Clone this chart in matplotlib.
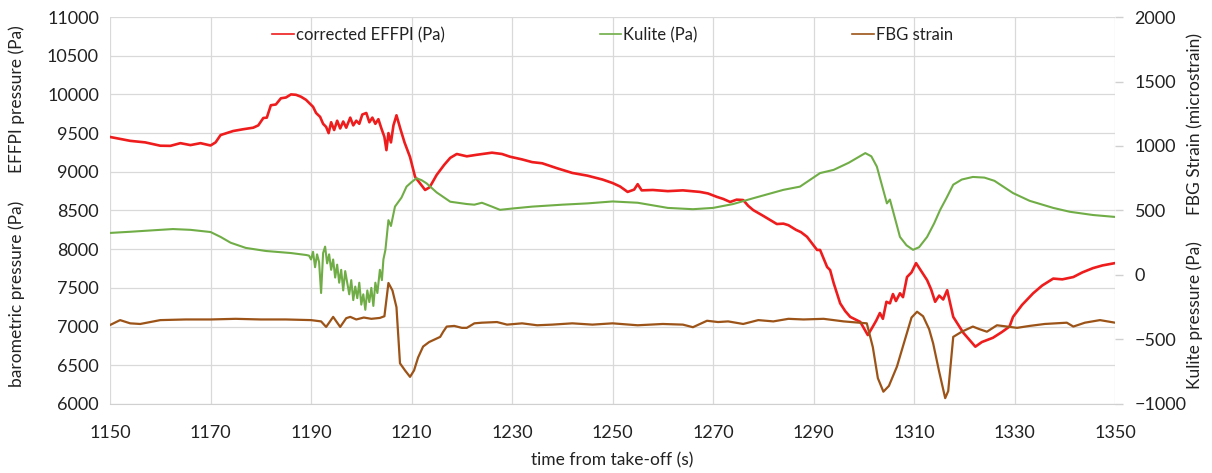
import matplotlib.pyplot as plt

plt.rcParams['font.family'] = ['Lato', 'DejaVu Sans']

# corrected EFFPI pressure (Pa), left axis
effpi_t = [1150, 1152, 1154, 1157, 1160, 1162, 1164, 1166, 1168, 1170, 1171, 1172,
           1174.5, 1176.5, 1178.5, 1179.5, 1180.5, 1181.2, 1182, 1183, 1184, 1185, 1186,
           1187, 1188, 1189, 1190.4, 1191, 1191.8, 1192.4, 1193, 1193.5, 1194, 1194.6,
           1195.2, 1195.8, 1196.4, 1197, 1197.8, 1198.4, 1199, 1199.6, 1200.2, 1201,
           1201.6, 1202.2, 1202.8, 1203.4, 1204, 1204.6, 1205, 1205.4, 1205.9, 1206.4,
           1207, 1207.8, 1208.6, 1209.7, 1210.7, 1211.7, 1212.7, 1213.6, 1215, 1216.5,
           1217.7, 1219, 1221, 1223, 1226, 1228, 1229.6, 1232, 1234, 1236, 1239, 1242,
           1245, 1248, 1250, 1251.5, 1253, 1254.3, 1255, 1255.8, 1258, 1261, 1264,
           1267.4, 1269, 1270.8, 1272, 1273.4, 1274.7, 1276, 1277, 1278, 1280, 1282.7,
           1284, 1285, 1286.5, 1287.5, 1288.7, 1290.7, 1291.3, 1292.7, 1293.3, 1294,
           1295.3, 1296.3, 1297.3, 1299.3, 1300.8, 1301.8, 1302.5, 1303.2, 1303.8, 1304.5,
           1305.2, 1305.8, 1306.4, 1307.2, 1307.8, 1308.6, 1309.5, 1310.4, 1311.4, 1312.6,
           1313.4, 1314.2, 1315, 1315.8, 1316.6, 1317.2, 1317.8, 1319.8, 1321, 1322.2,
           1323.5, 1325.7, 1327.5, 1329, 1329.7, 1331.5, 1333.7, 1335.5, 1337.7, 1339.5,
           1341.7, 1343.5, 1345.6, 1347.5, 1350]
effpi = [9450, 9425, 9400, 9380, 9337, 9335, 9370, 9345, 9370, 9340, 9380, 9475,
         9527, 9550, 9570, 9600, 9695, 9700, 9860, 9870, 9950, 9960, 10000,
         9995, 9970, 9930, 9840, 9760, 9710, 9620, 9580, 9500, 9640, 9540,
         9660, 9560, 9650, 9570, 9700, 9600, 9660, 9620, 9740, 9760,
         9640, 9700, 9620, 9680, 9560, 9450, 9280, 9500, 9380, 9600,
         9730, 9550, 9380, 9190, 8935, 8850, 8765, 8800, 8960, 9090,
         9180, 9230, 9200, 9220, 9247, 9230, 9195, 9160, 9125, 9110, 9045, 8985,
         8950, 8900, 8855, 8810, 8740, 8770, 8840, 8760, 8765, 8750, 8760,
         8740, 8720, 8675, 8650, 8610, 8640, 8635, 8560, 8505, 8430, 8325,
         8330, 8310, 8250, 8220, 8160, 7990, 7990, 7770, 7730, 7563,
         7300, 7200, 7125, 7060, 6890, 7000, 7080, 7175, 7100, 7320,
         7300, 7420, 7330, 7430, 7380, 7640, 7700, 7820, 7720, 7600,
         7480, 7320, 7400, 7350, 7470, 7300, 7125, 6920, 6830, 6740,
         6800, 6855, 6930, 7000, 7125, 7280, 7430, 7530, 7620, 7610,
         7640, 7700, 7755, 7790, 7820]

# Kulite pressure (Pa), right axis
kulite_t = [1150, 1154, 1158, 1162.5, 1166, 1170, 1172, 1174, 1177, 1181, 1186, 1189,
            1189.6, 1190, 1190.4, 1190.8, 1191.2, 1191.6, 1192, 1192.4, 1192.8, 1193.2,
            1193.6, 1194, 1194.4, 1194.8, 1195.2, 1195.6, 1196, 1196.4, 1196.8, 1197.2,
            1197.6, 1198, 1198.4, 1198.8, 1199.2, 1199.6, 1200, 1200.4, 1200.8, 1201.2,
            1201.6, 1202, 1202.4, 1202.8, 1203.2, 1203.7, 1204.1, 1204.4, 1204.8,
            1205.4, 1205.9, 1206.7, 1208, 1209, 1210, 1211, 1212,
            1213, 1215, 1217.7, 1221, 1222.5, 1224, 1226, 1227.6, 1230, 1234, 1240,
            1245, 1250, 1255, 1261, 1266, 1270, 1274, 1278, 1284, 1287.3, 1291.3, 1294,
            1297, 1300.3, 1301.5, 1302.6, 1304.6, 1305.2, 1307.2, 1308.5, 1309.8, 1311,
            1312.6, 1314, 1315.2, 1316.5, 1317.8, 1319.5, 1321.7, 1324, 1326, 1329.7,
            1333, 1337.7, 1341, 1345.6, 1350]
kulite = [326, 335, 345, 356, 350, 333, 295, 250, 210, 186, 170, 155,
          150, 120, 180, 60, 160, 100, -140, 170, 220, 90,
          160, 40, 120, -20, 80, -60, 40, -120, 30, -60,
          -150, -40, -195, -90, -180, -60, -230, -150, -270, -120,
          -210, -100, -240, -60, -140, 40, -40, 120, 195,
          425, 380, 530, 600, 685, 720, 750, 735,
          710, 640, 568, 550, 545, 560, 530, 505, 515, 530, 545,
          555, 570, 560, 520, 510, 520, 550, 595, 660, 685, 790, 815,
          870, 945, 920, 840, 555, 585, 295, 230, 195, 215,
          295, 400, 505, 600, 700, 740, 760, 755, 730, 635,
          575, 520, 490, 465, 450]

# FBG strain (microstrain), right axis
fbg_t = [1150, 1152, 1154, 1156, 1158, 1160, 1165, 1170, 1175, 1180, 1185, 1190,
         1192, 1193, 1194.4, 1195.8, 1197, 1197.8, 1199, 1200.5, 1202, 1203.7, 1204.6,
         1205.4, 1206.2, 1207, 1207.7, 1208.7, 1209.7, 1210.5, 1211.3, 1212.3, 1213.5,
         1214.6, 1215.7, 1216.3, 1217, 1218.5, 1220, 1221, 1222.5, 1224, 1227, 1229,
         1232, 1235, 1238, 1242, 1246, 1250, 1255, 1260, 1264, 1266, 1268.8, 1271,
         1273, 1276, 1279, 1282, 1285, 1288, 1292, 1296, 1300.6, 1301.8, 1302.8,
         1303.9, 1305, 1306.6, 1308.2, 1309.5, 1310.6, 1311.8, 1313, 1313.8, 1315,
         1316.2, 1316.8, 1317.8, 1319.5, 1321.7, 1323, 1324.5, 1326.5, 1328.5, 1330.5,
         1333, 1336, 1340.4, 1341.7, 1344, 1347, 1350]
fbg = [-388, -350, -375, -380, -365, -350, -345, -345, -340, -345, -345, -350,
       -360, -403, -325, -403, -335, -325, -345, -330, -340, -333, -320,
       -62, -120, -250, -685, -740, -790, -740, -640, -555, -520,
       -500, -480, -440, -400, -395, -410, -410, -375, -370, -365, -385,
       -375, -390, -385, -375, -385, -375, -390, -380, -385, -405, -355, -365,
       -360, -380, -350, -360, -340, -345, -340, -360, -375, -560, -800,
       -905, -860, -710, -500, -330, -285, -320, -420, -530, -750,
       -955, -900, -480, -440, -400, -420, -440, -390, -400, -410,
       -395, -380, -370, -400, -370, -350, -370]

xticks = list(range(1150, 1351, 20))

fig = plt.figure(figsize=(12.12, 4.73), dpi=100)
ax = fig.add_axes([0.0908, 0.146, 0.8292, 0.818])
ax2 = ax.twinx()

red = '#ee1c1c'
green = '#70ad47'
brown = '#9c5318'

ax.plot(effpi_t, effpi, color=red, lw=1.9, label='corrected EFFPI (Pa)')
ax2.plot(kulite_t, kulite, color=green, lw=1.5, label='Kulite (Pa)')
ax2.plot(fbg_t, fbg, color=brown, lw=1.6, label='FBG strain')

ax.set_xlim(1150, 1350)
ax.set_ylim(6000, 11000)
ax2.set_ylim(-1000, 2000)
ax.set_xticks(xticks)
ax.set_yticks(range(6000, 11001, 500))
ax2.set_yticks(range(-1000, 2001, 500))

ax.grid(True, color='#d9d9d9', lw=0.9)
ax.set_axisbelow(True)
for a in (ax, ax2):
    for s in a.spines.values():
        s.set_visible(False)
ax.spines['bottom'].set_visible(True)
ax.spines['bottom'].set_color('#d0d0d0')

ax.tick_params(axis='y', length=0, labelsize=13, pad=8, colors='#222222')
ax.tick_params(axis='x', length=0, labelsize=13, pad=15, colors='#222222')
ax2.tick_params(axis='y', length=6, width=1, labelsize=13, pad=8,
                labelcolor='#222222', color='#d0d0d0')

ax.set_xlabel('time from take-off (s)', fontsize=12.5, color='#222222', labelpad=8)

fig.text(0.014, 0.79, 'EFFPI pressure (Pa)', rotation=90, ha='center', va='center',
         fontsize=12.5, color='#222222')
fig.text(0.014, 0.378, 'barometric pressure (Pa)', rotation=90, ha='center',
         va='center', fontsize=12.5, color='#222222')
fig.text(0.986, 0.738, 'FBG Strain (microstrain)', rotation=90, ha='center',
         va='center', fontsize=12.5, color='#222222')
fig.text(0.986, 0.334, 'Kulite pressure (Pa)', rotation=90, ha='center',
         va='center', fontsize=12.5, color='#222222')

# legend entries spread along the top of the plot
h1, l1 = ax.get_legend_handles_labels()
h2, l2 = ax2.get_legend_handles_labels()
leg = ax2.legend(h1 + h2, l1 + l2, loc='upper center', bbox_to_anchor=(0.5, 1.0),
                 ncol=3, frameon=False, fontsize=12, handlelength=1.3,
                 handletextpad=0.1, columnspacing=9.3, borderaxespad=0.2)
for t in leg.get_texts():
    t.set_color('#222222')
for ln in leg.get_lines():
    ln.set_linewidth(1.2)

fig.savefig('out.png', dpi=100)
